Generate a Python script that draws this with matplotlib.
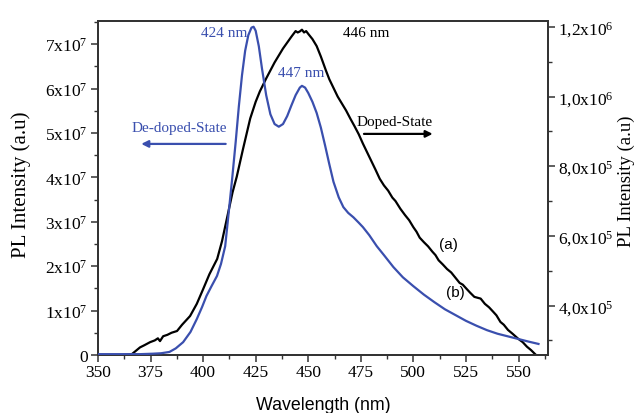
import matplotlib
matplotlib.use("Agg")
import matplotlib.pyplot as plt
from matplotlib.ticker import MultipleLocator, FixedLocator, FuncFormatter

# De-doped state (b), left axis, units of 1e7
wl_dedoped = [350, 360, 370, 376, 380, 384, 387, 390.5, 394, 397, 399.5, 401.6, 404, 406.6,
              408.5, 410.5, 412, 413.8, 415.5, 417, 418.5, 420, 421.5, 423, 424, 425, 426.5,
              428, 430, 432, 434, 436, 438, 440, 442, 444, 446, 447, 448.5, 450, 452, 454,
              456, 458, 460, 462, 464.5, 466.7, 469, 471.5, 474, 476, 479, 482.6, 486,
              490.5, 495, 500, 505, 510, 515, 520, 525, 530, 535, 540, 545, 550, 555, 559.5]
pl_dedoped = [0.02, 0.02, 0.02, 0.03, 0.04, 0.07, 0.15, 0.29, 0.52, 0.81, 1.08, 1.33, 1.55, 1.78,
              2.05, 2.45, 3.13, 3.96, 4.8, 5.6, 6.3, 6.85, 7.2, 7.37, 7.39, 7.3, 6.95,
              6.45, 5.85, 5.42, 5.2, 5.14, 5.2, 5.38, 5.62, 5.85, 6.02, 6.06, 6.02, 5.9, 5.7, 5.45,
              5.12, 4.72, 4.3, 3.9, 3.55, 3.33, 3.2, 3.1, 2.98, 2.88, 2.7, 2.45, 2.25,
              1.98, 1.75, 1.55, 1.36, 1.19, 1.03, 0.9, 0.77, 0.66, 0.56, 0.48, 0.42, 0.36, 0.3, 0.25]

# Doped state (a), right axis, units of 1e5
wl_doped = [362, 366, 368, 370, 372, 374.8, 377, 378.5, 379.5, 381, 383, 385, 387.6, 390, 393.8,
            397, 400, 403, 406.7, 409, 412, 414, 416, 419, 422.4, 425, 427, 430, 432, 434,
            436.7, 438, 440, 442, 443, 444, 445, 446, 447, 448, 449, 450, 452, 454, 456,
            458.4, 460, 462, 464, 466, 468, 470, 472, 474, 476, 478, 480, 482, 484, 486,
            488, 490, 491.5, 493.8, 496, 498, 500, 501.5, 503, 505, 507, 509, 510.5, 512, 514,
            516, 518, 520, 522, 523.5, 525, 527, 529, 532, 534, 536, 538, 539.5, 541.4, 543,
            545, 547, 550, 552, 554, 556, 558, 560]
pl_doped = [2.58, 2.6, 2.7, 2.8, 2.86, 2.95, 3.0, 3.06, 2.98, 3.12, 3.16, 3.22, 3.27, 3.45, 3.7,
            4.05, 4.47, 4.9, 5.34, 5.85, 6.69, 7.25, 7.7, 8.5, 9.37, 9.85, 10.15, 10.52, 10.75, 10.98,
            11.25, 11.38, 11.55, 11.72, 11.8, 11.88, 11.84, 11.87, 11.92, 11.84, 11.88, 11.8, 11.65,
            11.45, 11.15, 10.75, 10.5, 10.25, 10.0, 9.8, 9.6, 9.37, 9.15, 8.92, 8.65, 8.4, 8.15, 7.9,
            7.64, 7.45, 7.3, 7.1, 7.0, 6.78, 6.6, 6.45, 6.25, 6.12, 5.95, 5.82, 5.7, 5.55, 5.45,
            5.3, 5.18, 5.05, 4.95, 4.8, 4.65, 4.6, 4.5, 4.37, 4.25, 4.2, 4.05, 3.95, 3.82, 3.72,
            3.53, 3.45, 3.3, 3.2, 3.04, 2.95, 2.82, 2.72, 2.6, 2.5]

x_ticks = [350, 375, 400, 425, 450, 475, 500, 525, 550]
left_ticks = [0, 1, 2, 3, 4, 5, 6, 7]
right_ticks = [4.0, 6.0, 8.0, 10.0, 12.0]

BLUE = "#3a4fae"
SERIF = "Liberation Serif"
SANS = "Liberation Sans"

plt.rcParams["mathtext.fontset"] = "custom"
plt.rcParams["mathtext.rm"] = SERIF
plt.rcParams["mathtext.it"] = SERIF + ":italic"

fig = plt.figure(figsize=(6.37, 4.14), dpi=100)
ax = fig.add_axes([0.1538, 0.140, 0.7064, 0.8069])
ax2 = ax.twinx()

ax.plot(wl_dedoped, [v * 1e7 for v in pl_dedoped], color=BLUE, lw=1.6, zorder=3)
ax2.plot(wl_doped, [v * 1e5 for v in pl_doped], color="black", lw=1.6)

ax.set_xlim(350, 564)
ax.set_ylim(0, 7.52e7)
ax2.set_ylim(2.58e5, 12.17e5)

ax.set_zorder(ax2.get_zorder() + 1)
ax.patch.set_visible(False)

ax.xaxis.set_major_locator(FixedLocator(x_ticks))
ax.xaxis.set_minor_locator(MultipleLocator(12.5))
ax.yaxis.set_major_locator(FixedLocator([v * 1e7 for v in left_ticks]))
ax.yaxis.set_minor_locator(MultipleLocator(0.5e7))
ax2.yaxis.set_major_locator(FixedLocator([v * 1e5 for v in right_ticks]))
ax2.yaxis.set_minor_locator(FixedLocator([3e5, 5e5, 7e5, 9e5, 11e5]))


def left_fmt(v, pos):
    n = round(v / 1e7)
    if n == 0:
        return "0"
    return r"$\mathrm{%dx10}^{7}$" % n


def right_fmt(v, pos):
    m = v / 1e5
    if m >= 9.99:
        s = ("%.1f" % (m / 10)).replace(".", "{,}")
        return r"$\mathrm{%sx10}^{6}$" % s
    s = ("%.1f" % m).replace(".", "{,}")
    return r"$\mathrm{%sx10}^{5}$" % s


ax.yaxis.set_major_formatter(FuncFormatter(left_fmt))
ax2.yaxis.set_major_formatter(FuncFormatter(right_fmt))

for a in (ax, ax2):
    for sp in a.spines.values():
        sp.set_color("#333333")
        sp.set_linewidth(1.3)
    a.tick_params(which="major", length=5, width=1.1, color="#333333", labelsize=12.5, pad=2.5)
    a.tick_params(which="minor", length=3, width=1.0, color="#333333")
ax.tick_params(axis="x", which="both", top=False, direction="out")
ax.tick_params(axis="x", which="major", pad=1.5)
for lab in ax.get_xticklabels() + ax.get_yticklabels() + ax2.get_yticklabels():
    lab.set_fontfamily(SERIF)

ax.set_xlabel("Wavelength (nm)", fontfamily=SANS, fontsize=12.8, va="center")
ax.xaxis.set_label_coords(0.5, -0.147)
ax.set_ylabel("PL Intensity (a.u)", fontfamily=SERIF, fontsize=15, va="center")
ax.yaxis.set_label_coords(-0.17, 0.513)
ax2.set_ylabel("PL Intensity (a.u)", fontfamily=SERIF, fontsize=13.5, rotation=90, va="center")
ax2.yaxis.set_label_coords(1.174, 0.522)

ax.text(0.28, 0.965, "424 nm", transform=ax.transAxes, color=BLUE, fontfamily=SERIF,
        fontsize=11, ha="center", va="center")
ax.text(0.595, 0.965, "446 nm", transform=ax.transAxes, color="black", fontfamily=SERIF,
        fontsize=11, ha="center", va="center")
ax.text(0.452, 0.845, "447 nm", transform=ax.transAxes, color=BLUE, fontfamily=SERIF,
        fontsize=11, ha="center", va="center")
ax.text(0.18, 0.68, "De-doped-State", transform=ax.transAxes, color=BLUE, fontfamily=SERIF,
        fontsize=11, ha="center", va="center")
ax.annotate("", xy=(0.09, 0.632), xytext=(0.29, 0.632), xycoords="axes fraction",
            arrowprops=dict(arrowstyle="-|>", color=BLUE, lw=1.6, mutation_scale=10))
ax.text(0.66, 0.70, "Doped-State", transform=ax.transAxes, color="black", fontfamily=SERIF,
        fontsize=11, ha="center", va="center")
ax.annotate("", xy=(0.75, 0.662), xytext=(0.585, 0.662), xycoords="axes fraction",
            arrowprops=dict(arrowstyle="-|>", color="black", lw=1.6, mutation_scale=10))
ax.text(0.778, 0.333, "(a)", transform=ax.transAxes, color="black", fontfamily=SANS,
        fontsize=11, ha="center", va="center")
ax.text(0.795, 0.19, "(b)", transform=ax.transAxes, color="black", fontfamily=SANS,
        fontsize=11, ha="center", va="center")

fig.savefig("out.png", dpi=100)
